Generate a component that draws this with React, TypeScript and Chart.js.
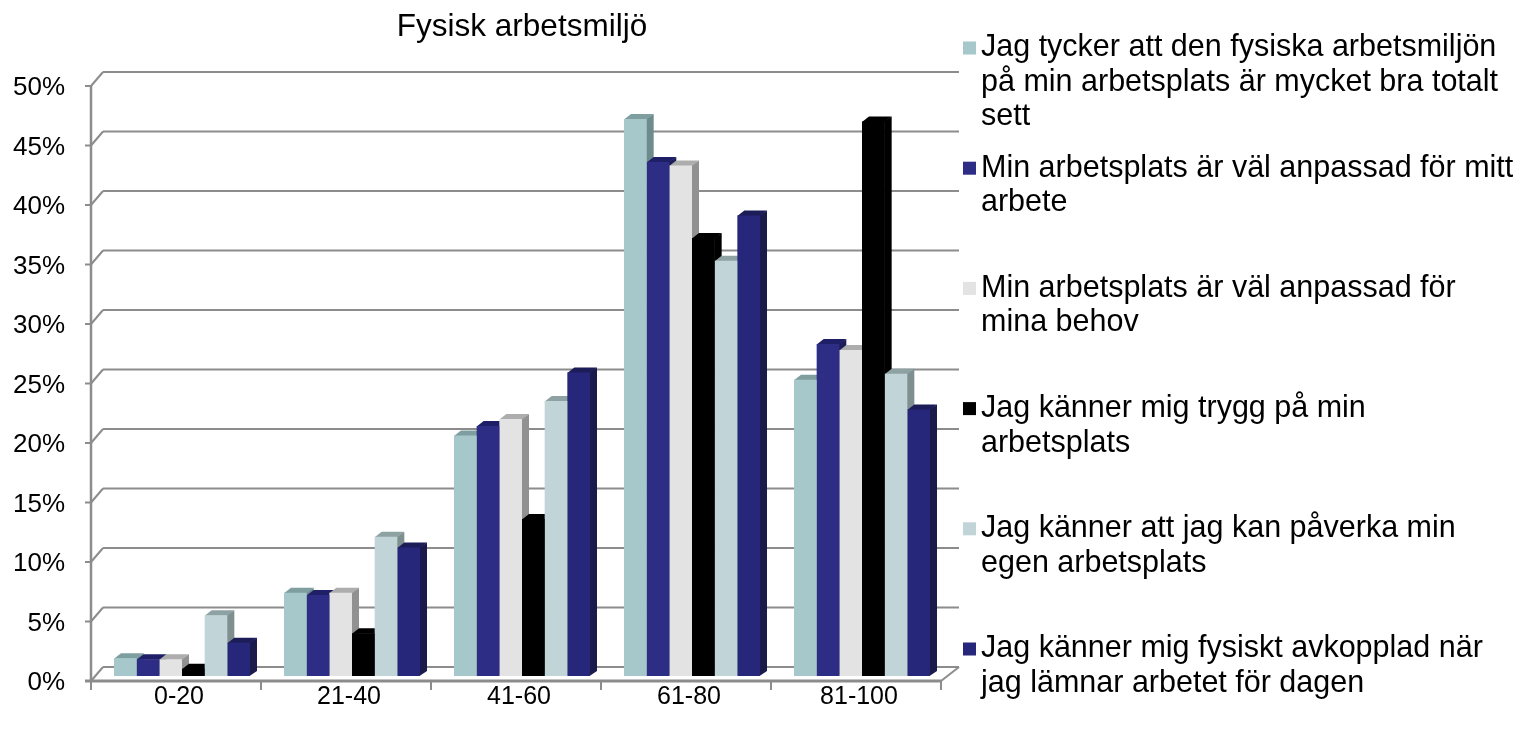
import React, { useEffect, useRef } from "react";
import { Chart, registerables } from "chart.js";

Chart.register(...registerables);

const title = "Fysisk arbetsmiljö";
const categories = ["0-20", "21-40", "41-60", "61-80", "81-100"];
const yTicksMax = 0.5;
const yTickStep = 0.05;

const legendLines1 = ["Jag tycker att den fysiska arbetsmiljön", "på min arbetsplats är mycket bra totalt", "sett"];
const legendLines2 = ["Min arbetsplats är väl anpassad för mitt", "arbete"];
const legendLines3 = ["Min arbetsplats är väl anpassad för", "mina behov"];
const legendLines4 = ["Jag känner mig trygg på min", "arbetsplats"];
const legendLines5 = ["Jag känner att jag kan påverka min", "egen arbetsplats"];
const legendLines6 = ["Jag känner mig fysiskt avkopplad när", "jag lämnar arbetet för dagen"];

const values1 = [1.5, 7.0, 20.2, 46.8, 24.9];
const values2 = [1.4, 6.8, 21.0, 43.2, 27.9];
const values3 = [1.4, 7.0, 21.6, 42.9, 27.4];
const values4 = [0.6, 3.6, 13.2, 36.8, 46.6];
const values5 = [5.1, 11.7, 23.1, 34.9, 25.4];
const values6 = [2.8, 10.8, 25.5, 38.7, 22.4];

const seriesLines = [legendLines1, legendLines2, legendLines3, legendLines4, legendLines5, legendLines6];
const seriesValues = [values1, values2, values3, values4, values5, values6];

const frontColors = ["#A6C8CB", "#2D2D86", "#E3E3E3", "#000000", "#C1D5D8", "#26267A"];
const topColors = ["#7E9E9F", "#1F1F68", "#ADADAD", "#000000", "#8FA2A3", "#1C1C58"];
const sideColors = ["#6D8B8C", "#1D1D58", "#919191", "#000000", "#7F8F90", "#1B1B4B"];

const FONT = "'Liberation Sans', Arial, sans-serif";
const GRID = "#8C8C8C";
const FRONT = { dx: -6, dy: 5 };
const BACK = { dx: 6, dy: -9, rightExtra: 6 };
const DEPTH = { dx: 7, dy: -5 };

function poly(ctx: CanvasRenderingContext2D, pts: number[][]) {
  ctx.beginPath();
  ctx.moveTo(pts[0][0], pts[0][1]);
  for (let i = 1; i < pts.length; i++) ctx.lineTo(pts[i][0], pts[i][1]);
  ctx.closePath();
  ctx.fill();
}

const wallsAndFaces = {
  id: "wallsAndFaces",
  beforeDatasetsDraw(chart: any) {
    const { ctx, chartArea: ca, scales } = chart;
    const y = scales.y;
    ctx.save();
    const y0 = y.getPixelForValue(0);
    const fl = ca.left + FRONT.dx;
    const fr = ca.right + FRONT.dx;
    const fy = y0 + FRONT.dy;
    const bl = ca.left + BACK.dx;
    const br = ca.right + BACK.dx + BACK.rightExtra;
    const by = y0 + BACK.dy;

    // floor
    ctx.fillStyle = "#FFFFFF";
    poly(ctx, [[fl, fy], [fr, fy], [br, by], [bl, by]]);
    ctx.strokeStyle = GRID;
    ctx.lineWidth = 2;
    ctx.beginPath();
    ctx.moveTo(fr, fy);
    ctx.lineTo(br, by);
    ctx.stroke();

    // back wall gridlines and left wall diagonals
    const nTicks = Math.round(yTicksMax / yTickStep);
    for (let i = 0; i <= nTicks; i++) {
      const v = i * yTickStep;
      const py = y.getPixelForValue(v);
      ctx.beginPath();
      ctx.moveTo(bl, py + BACK.dy);
      ctx.lineTo(br, py + BACK.dy);
      ctx.stroke();
      ctx.beginPath();
      ctx.moveTo(fl, py + FRONT.dy);
      ctx.lineTo(bl, py + BACK.dy);
      ctx.stroke();
      ctx.beginPath();
      ctx.moveTo(fl - 6, py + FRONT.dy);
      ctx.lineTo(fl, py + FRONT.dy);
      ctx.stroke();
    }
    // front vertical axis
    ctx.lineWidth = 2.5;
    ctx.beginPath();
    ctx.moveTo(fl, y.getPixelForValue(yTicksMax) + FRONT.dy);
    ctx.lineTo(fl, fy);
    ctx.stroke();
    // front floor edge
    ctx.lineWidth = 3;
    ctx.beginPath();
    ctx.moveTo(fl - 6, fy);
    ctx.lineTo(fr, fy);
    ctx.stroke();
    // category ticks
    ctx.lineWidth = 2;
    const n = categories.length;
    for (let i = 0; i <= n; i++) {
      const xb = ca.left + (i * (ca.right - ca.left)) / n + FRONT.dx;
      ctx.beginPath();
      ctx.moveTo(xb, fy);
      ctx.lineTo(xb, fy + 9);
      ctx.stroke();
    }

    // bar side and top faces (fronts drawn by Chart.js afterwards)
    const nd = chart.data.datasets.length;
    for (let g = 0; g < n; g++) {
      for (let d = 0; d < nd; d++) {
        const bar: any = chart.getDatasetMeta(d).data[g];
        if (!bar) continue;
        const top = bar.y;
        const base = bar.base;
        const l = bar.x - bar.width / 2;
        const r = bar.x + bar.width / 2;
        ctx.fillStyle = sideColors[d];
        poly(ctx, [[r - 0.5, top], [r + DEPTH.dx, top + DEPTH.dy], [r + DEPTH.dx, base + DEPTH.dy], [r - 0.5, base]]);
        ctx.fillStyle = topColors[d];
        poly(ctx, [[l, top + 0.5], [r, top + 0.5], [r + DEPTH.dx, top + DEPTH.dy], [l + DEPTH.dx, top + DEPTH.dy]]);
      }
    }
    ctx.restore();
  },
};

const customLegend = {
  id: "customLegend",
  afterDraw(chart: any) {
    const { ctx } = chart;
    ctx.save();
    ctx.font = `30.5px ${FONT}`;
    ctx.textBaseline = "middle";
    ctx.textAlign = "left";
    const slotStart = 48;
    const slotStep = 120.2;
    const lineStep = 34.5;
    const swX = 963;
    const sw = 13;
    const textX = 981;
    seriesLines.forEach((lines, i) => {
      const y0 = slotStart + i * slotStep;
      ctx.fillStyle = frontColors[i];
      ctx.fillRect(swX, y0 - sw / 2, sw, sw);
      ctx.fillStyle = "#000000";
      lines.forEach((t, j) => ctx.fillText(t, textX, y0 + j * lineStep));
    });
    ctx.restore();
  },
};

export default function App() {
  const ref = useRef<HTMLCanvasElement>(null);
  useEffect(() => {
    if (!ref.current) return;
    const chart = new Chart(ref.current, {
      type: "bar",
      data: {
        labels: categories,
        datasets: seriesValues.map((vals, i) => ({
          label: seriesLines[i].join(" "),
          data: vals.map((v) => v / 100),
          backgroundColor: frontColors[i],
          borderWidth: 0,
          categoryPercentage: 0.8,
          barPercentage: 1.0,
        })),
      },
      options: {
        responsive: false,
        animation: false,
        layout: { padding: { left: 0, right: 577, top: 0, bottom: 0 } },
        plugins: {
          legend: { display: false },
          tooltip: { enabled: false },
          title: {
            display: true,
            text: title,
            fullSize: false,
            color: "#000000",
            font: { family: FONT, size: 31.5, weight: "normal", lineHeight: 1.2 },
            padding: { top: 8, bottom: 35.2 },
          },
        },
        scales: {
          x: {
            grid: { display: false, drawTicks: false },
            border: { display: false },
            ticks: {
              color: "#000000",
              font: { family: FONT, size: 25 },
              padding: 6,
              labelOffset: -3,
              maxRotation: 0,
            },
            afterFit: (s: any) => {
              s.height = 57;
            },
          },
          y: {
            min: 0,
            max: yTicksMax,
            grid: { display: false, drawTicks: false },
            border: { display: false },
            ticks: {
              stepSize: yTickStep,
              color: "#000000",
              font: { family: FONT, size: 26 },
              padding: 32,
              labelOffset: 7,
              callback: (v: any) => Math.round(Number(v) * 100) + "%",
            },
            afterFit: (s: any) => {
              s.width = 97;
            },
          },
        },
      },
      plugins: [wallsAndFaces, customLegend],
    });
    return () => chart.destroy();
  }, []);
  return (
    <div style={{ position: "fixed", left: 0, top: 0, width: 1524, height: 733, background: "#fff" }}>
      <canvas ref={ref} width={1524} height={733} style={{ width: 1524, height: 733 }} />
    </div>
  );
}
